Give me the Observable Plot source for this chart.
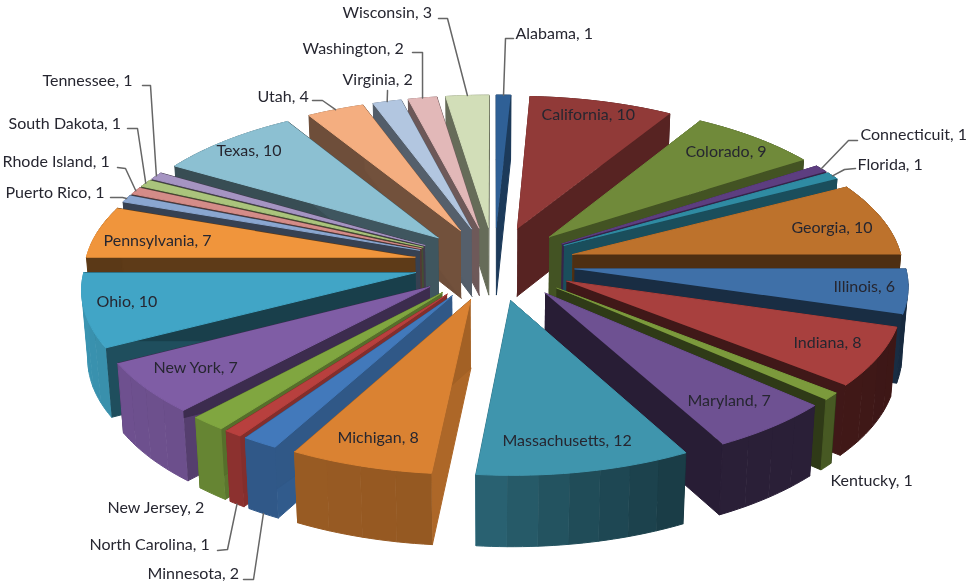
<!DOCTYPE html>
<html><head><meta charset="utf-8">
<script src="https://cdn.jsdelivr.net/npm/d3@7"></script>
<script src="https://cdn.jsdelivr.net/npm/@observablehq/plot@0.6"></script>
<style>html,body{margin:0;padding:0;background:#fff}#c svg{display:block;filter:blur(.5px)}</style>
</head><body><div id="c"></div>
<script>
const states=["Alabama","California","Colorado","Connecticuit","Florida","Georgia","Illinois","Indiana","Kentucky","Maryland","Massachusetts","Michigan","Minnesota","North Carolina","New Jersey","New York","Ohio","Pennsylvania","Puerto Rico","Rhode Island","South Dakota","Tennessee","Texas","Utah","Virginia","Washington","Wisconsin"];
const counts=[1,10,9,1,1,10,6,8,1,7,12,8,2,1,2,7,10,7,1,1,1,1,10,4,2,2,3];
const colors=["#2f6096","#913a38","#708a3a","#5d3e80","#2f8ba3","#bd722c","#3f70a8","#a8403e","#7c9a3c","#6e5192","#3f95ad","#da8232","#4279bb","#b8403e","#80a640","#7f5da5","#41a5c6","#f0953c","#8aa6d0","#d48c88","#aac47c","#a594c2","#8cc0d2","#f4ae80","#b2c6e0","#e2b8b8","#d2deb8"];
// annotation layout: label left edge, baseline row, and optional leader elbow
const labelLayout=[
 [515,33,[513,38],[505,38]],[541,114],[685,151],[860,134,[857,140],[848,140]],[857,164,[855,168],[844,169]],
 [791,227],[833,286],[793,342],[830,480],[687,400],[502,440],[337,437],
 [147,573,[243,579],[253,579]],[89,544,[217,550],[227,549]],[107,507],[153,367],[96,301],[103,240],
 [5,192,[110,197],[122,197]],[2,161,[117,167],[125,168]],[8,123,[127,128],[137,128]],[42,80,[142,85],[150,85]],
 [216,150],[257,96,[312,100],[322,100]],[342,79,[387,90],[387,91]],[302,48,[412,52],[422,52]],[342,12,[438,18],[447,18]]
];

const cx=494,cy=263,Ax=330,Ay=151,k=.0934,explode=.245,H=68,shrink=.985;
const total=d3.sum(counts);
const deg=180/Math.PI;
const outerShade=d3.scaleLinear([0,110,128,130.5,133,150,170,186,208,225,272,285,360],[.5,.36,.38,.6,.38,.38,.52,.68,.7,.85,.9,.42,.5]).clamp(true);
const radialShade=d3.scaleLinear([0,31,56,84,107,152,170,186,208,219,242,270,301,329,360],[.6,.6,.6,.42,.4,.36,.5,.8,.75,.7,.47,.38,.4,.45,.5]).clamp(true);
const top3=(u,v)=>{const p=1/(1-k*v);return [cx+Ax*u*p,cy+Ay*v*p];};
const bot3=(u,v)=>{const [x,y]=top3(u,v);return [cx+(x-cx)*shrink,y+H*(1+.04*v)];};
let acc=0;
const slices=states.map((s,i)=>{
  const a0=acc/total*2*Math.PI;acc+=counts[i];const a1=acc/total*2*Math.PI;const mid=(a0+a1)/2;
  return {i,s,a0,a1,mid,eu:explode*Math.sin(mid),ev:-explode*Math.cos(mid),depth:-Math.cos(mid)};
});
const polys=[];let pid=0;
function add(pts,fill){const id=pid++;pts.forEach(([x,y])=>polys.push({x,y,id,fill}));}
const shadeC=(c,f)=>{const r=d3.rgb(c);return d3.rgb(r.r*f,r.g*f,r.b*f).formatHex();};
slices.slice().sort((a,b)=>a.depth-b.depth).forEach(sl=>{
  const c=colors[sl.i],span=sl.a1-sl.a0,n=Math.max(3,Math.ceil(span/.03));
  const ang=d3.range(n+1).map(j=>sl.a0+span*j/n);
  const P=t=>[sl.eu+Math.sin(t),sl.ev-Math.cos(t)];
  const tip=[sl.eu,sl.ev];
  const radial=()=>{
    [sl.a0,sl.a1].forEach(t=>{const e=P(t);
      add([top3(...tip),top3(...e),bot3(...e),bot3(...tip)],shadeC(c,radialShade(t*deg)));});
  };
  const outer=()=>{
    const bands=Math.max(1,Math.round(span/.09));
    for(let b=0;b<bands;b++){
      const t0=sl.a0+span*b/bands,t1=sl.a0+span*(b+1)/bands;
      const ts=d3.range(5).map(j=>t0+(t1-t0)*j/4);
      add([...ts.map(t=>top3(...P(t))),...ts.slice().reverse().map(t=>bot3(...P(t)))],shadeC(c,outerShade((t0+t1)/2*deg)));
    }
  };
  if(Math.cos(sl.mid)>0){outer();radial();}else{radial();outer();}
  add([top3(...tip),...ang.map(t=>top3(...P(t)))],c);
});

const labels=states.map((s,i)=>({text:`${s}, ${counts[i]}`,x:labelLayout[i][0],y:labelLayout[i][1]}));
const leaders=[];
slices.forEach(sl=>{const l=labelLayout[sl.i];if(!l[2])return;
  const u=sl.eu+Math.sin(sl.mid),v=sl.ev-Math.cos(sl.mid);
  const e=Math.cos(sl.mid)<-.5?bot3(u,v):top3(u,v);
  [l[2],l[3],e].forEach(([x,y])=>leaders.push({x,y,id:sl.i}));
});

const plot=Plot.plot({width:967,height:583,margin:0,
  x:{domain:[0,967],range:[0,967],axis:null},
  y:{domain:[0,583],range:[0,583],axis:null},
  color:{type:"identity"},
  marks:[
    Plot.line(polys,{x:"x",y:"y",z:"id",fill:"fill",stroke:"fill",strokeWidth:1,curve:"linear"}),
    Plot.line(leaders,{x:"x",y:"y",z:"id",stroke:"#666",strokeWidth:1.5,curve:"linear"}),
    Plot.text(labels,{x:"x",y:"y",text:"text",textAnchor:"start",fill:"#262630",fontSize:16,fontFamily:"Lato"})
  ]});
document.getElementById("c").append(plot);
</script></body></html>
